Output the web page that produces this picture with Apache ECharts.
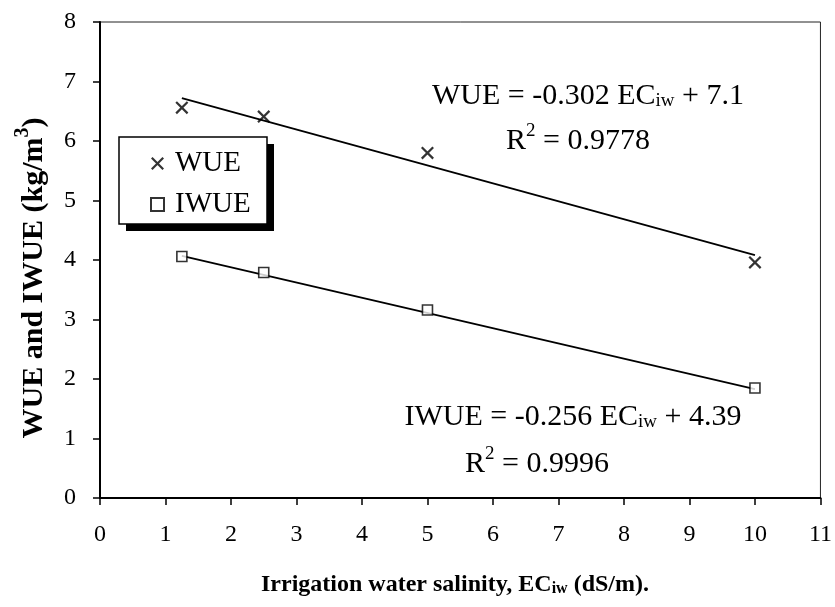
<!DOCTYPE html>
<html>
<head>
<meta charset="utf-8">
<script src="https://cdn.jsdelivr.net/npm/echarts@6/dist/echarts.min.js"></script>
<style>
html,body{margin:0;padding:0;background:#fff;}
#chart{width:835px;height:607px;}
</style>
</head>
<body>
<div id="chart"></div>
<script>
// ---- data ----
var salinity = [1.25, 2.5, 5, 10];             // EC_iw (dS/m)
var wueValues = [6.56, 6.41, 5.80, 3.96];       // WUE (kg/m3)
var iwueValues = [4.06, 3.79, 3.16, 1.85];      // IWUE (kg/m3)
var trendX = [1.25, 10];                        // trendline extent
var wueTrendY = [6.72, 4.08];                   // trendline ends
var iwueTrendY = [4.07, 1.83];
var xTicks = [0, 1, 2, 3, 4, 5, 6, 7, 8, 9, 10, 11];
var yTicks = [0, 1, 2, 3, 4, 5, 6, 7, 8];
var seriesNames = ['WUE', 'IWUE'];

function pairs(xs, ys) { return xs.map(function (x, i) { return [x, ys[i]]; }); }

var FONT = 'Liberation Serif';
var crossPath = 'path://M0,1.2L1.2,0L10,8.8L8.8,10Z M8.8,0L10,1.2L1.2,10L0,8.8Z';

var chart = echarts.init(document.getElementById('chart'), null, {renderer: 'canvas'});

var richBase = {
  n: {fontFamily: FONT, fontSize: 30, color: '#000', verticalAlign: 'bottom', lineHeight: 34},
  sub: {fontFamily: FONT, fontSize: 19, color: '#000', verticalAlign: 'bottom', lineHeight: 29},
  sup: {fontFamily: FONT, fontSize: 19, color: '#000', verticalAlign: 'top', lineHeight: 34}
};

function richText(x, y, text, rich, rotation) {
  return {
    type: 'text', x: x, y: y, rotation: rotation || 0, z: 10,
    style: {text: text, rich: rich, align: 'center', verticalAlign: 'middle', fill: '#000'}
  };
}

function titleRich(size) {
  return {
    b: {fontFamily: FONT, fontSize: size, fontWeight: 'bold', color: '#000', verticalAlign: 'bottom', lineHeight: size + 6},
    sub: {fontFamily: FONT, fontSize: Math.round(size * 0.66), fontWeight: 'bold', color: '#000', verticalAlign: 'bottom', lineHeight: size + 2},
    sup: {fontFamily: FONT, fontSize: Math.round(size * 0.66), fontWeight: 'bold', color: '#000', verticalAlign: 'top', lineHeight: size + 6}
  };
}

var option = {
  backgroundColor: '#fff',
  animation: false,
  grid: {left: 100, right: 11, top: 22, bottom: 109, show: true, borderColor: '#222', borderWidth: 1, backgroundColor: 'transparent'},
  xAxis: {
    type: 'value', min: xTicks[0], max: xTicks[xTicks.length - 1], interval: 1,
    axisLine: {show: true, lineStyle: {color: '#000', width: 2}},
    axisTick: {show: true, inside: false, length: 7, lineStyle: {color: '#000', width: 1.5}},
    axisLabel: {fontFamily: FONT, fontSize: 24, color: '#000', margin: 25},
    splitLine: {show: false}
  },
  yAxis: {
    type: 'value', min: yTicks[0], max: yTicks[yTicks.length - 1], interval: 1,
    axisLine: {show: true, lineStyle: {color: '#000', width: 2}},
    axisTick: {show: true, inside: false, length: 7, lineStyle: {color: '#000', width: 1.5}},
    axisLabel: {fontFamily: FONT, fontSize: 24, color: '#000', margin: 24},
    splitLine: {show: false}
  },
  legend: {
    data: seriesNames,
    orient: 'vertical',
    left: 119, top: 137,
    padding: [12, 0, 0, 31],
    itemGap: 12,
    itemWidth: 13, itemHeight: 13,
    backgroundColor: 'transparent',
    borderWidth: 0,
    textStyle: {fontFamily: FONT, fontSize: 29, color: '#000', padding: [0, 0, 0, 6]},
    selectedMode: false,
    z: 20
  },
  series: [
    {
      name: seriesNames[0], type: 'scatter', data: pairs(salinity, wueValues),
      symbol: crossPath, symbolSize: 13,
      itemStyle: {color: '#000'}, z: 5
    },
    {
      name: seriesNames[1], type: 'scatter', data: pairs(salinity, iwueValues),
      symbol: 'rect', symbolSize: 10,
      itemStyle: {color: '#fff', borderColor: '#000', borderWidth: 1.6}, z: 5
    },
    {
      name: 'WUE trend', type: 'line', data: pairs(trendX, wueTrendY),
      showSymbol: false, symbol: 'none', lineStyle: {color: '#000', width: 1.8}, z: 3
    },
    {
      name: 'IWUE trend', type: 'line', data: pairs(trendX, iwueTrendY),
      showSymbol: false, symbol: 'none', lineStyle: {color: '#000', width: 1.8}, z: 3
    }
  ],
  graphic: [
    {type: 'rect', z: 8, shape: {x: 126, y: 144, width: 148, height: 87}, style: {fill: '#000'}},
    {type: 'rect', z: 9, shape: {x: 119, y: 137, width: 148, height: 87}, style: {fill: '#fff', stroke: '#000', lineWidth: 1.5}},
    richText(588, 94, '{n|WUE = -0.302 EC}{sub|iw}{n| + 7.1}', richBase),
    richText(578, 139, '{n|R}{sup|2}{n| = 0.9778}', richBase),
    richText(573, 415, '{n|IWUE = -0.256 EC}{sub|iw}{n| + 4.39}', richBase),
    richText(537, 462, '{n|R}{sup|2}{n| = 0.9996}', richBase),
    richText(455, 582, '{b|Irrigation water salinity, EC}{sub|iw}{b| (dS/m).}', titleRich(24)),
    richText(31, 278, '{b|WUE and IWUE (kg/m}{sup|3}{b|)}', titleRich(30), Math.PI / 2)
  ]
};
chart.setOption(option);
</script>
</body>
</html>
